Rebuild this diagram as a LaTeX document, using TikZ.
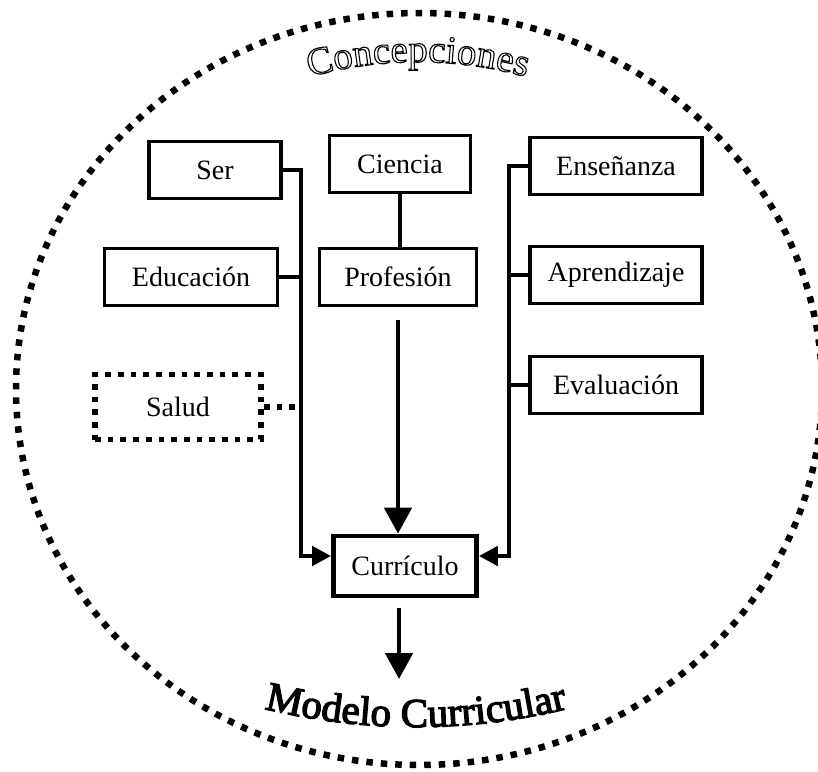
\documentclass[tikz,border=0pt]{standalone}
\usepackage{fontspec}
\setmainfont{Liberation Serif}
\usetikzlibrary{arrows.meta,decorations.text}

\newcommand\contorno{\special{pdf:literal direct 1 Tr 1.1 w}}
\newcommand\grueso{\special{pdf:literal direct 2 Tr 1.3 w}}

\begin{document}
\begin{tikzpicture}[x=1pt, y=1pt,
    caja/.style={draw, line width=3.2pt, minimum height=57pt, inner sep=0pt,
      font=\fontsize{28}{32}\selectfont},
    linea/.style={line width=4.8pt},
    flecha/.style={linea, -{Triangle[length=19pt,width=19pt]}},
    flechagrande/.style={linea, -{Triangle[length=26pt,width=27pt]}},
    punteado/.style={line width=5.7pt, dash pattern=on 5.7pt off 7pt}]
  \useasboundingbox (0,0) rectangle (818,-771);
  \draw[line width=6.5pt, dash pattern=on 6.5pt off 8pt] (419,-389) ellipse [x radius=403, y radius=376];
  \path[decorate, decoration={text along path, text align=center,
      text={|\fontsize{39}{40}\selectfont\contorno|Concepciones}}]
    ([shift={(118:400)}]418,-462) arc (118:62:400);
  \path[decorate, decoration={text along path, text align=center,
      text={|\fontsize{41}{44}\selectfont\grueso|Modelo Curricular}}]
    ([shift={(248:640)}]416,-87) arc (248:292:640);

  \node[caja, minimum width=132] (ser) at (215,-170) {Ser};
  \node[caja, minimum width=141] (ciencia) at (400,-164) {Ciencia};
  \node[caja, minimum width=172] (ensenanza) at (616,-166) {Enseñanza};
  \node[caja, minimum width=173] (educacion) at (191,-277) {Educación};
  \node[caja, minimum width=157] (profesion) at (398,-277) {Profesión};
  \node[caja, minimum width=172] (aprendizaje) at (616,-275) {Aprendizaje};
  \node[caja, minimum width=172] (evaluacion) at (616,-385) {Evaluación};
  \node[caja, punteado, minimum width=166, minimum height=65] (salud) at (178,-407) {Salud};
  \node[caja, line width=4.7pt, minimum width=143, minimum height=60] (curriculo) at (405,-566) {Currículo};
  \coordinate (izq) at (301,-170);
  \coordinate (der) at (509,-166);
  \coordinate (modelo) at (399,-679);

  \draw[flecha] (ser.east) -- (izq) |- ([yshift=10pt]curriculo.west);
  \draw[linea] (educacion.east) -- (educacion.east -| izq);
  \draw[punteado] (salud.east) -- (salud.east -| izq);
  \draw[flecha] (ensenanza.west) -- (der) |- ([yshift=10pt]curriculo.east);
  \draw[linea] (aprendizaje.west) -- (aprendizaje.west -| der);
  \draw[linea] (evaluacion.west) -- (evaluacion.west -| der);
  \draw[linea] (ciencia.south) -- (ciencia.south |- profesion.north);
  \draw[flechagrande] ([yshift=-13pt]profesion.south) -- (profesion.south |- curriculo.north);
  \draw[flechagrande] ([yshift=-10pt]modelo |- curriculo.south) -- (modelo);
\end{tikzpicture}
\end{document}
